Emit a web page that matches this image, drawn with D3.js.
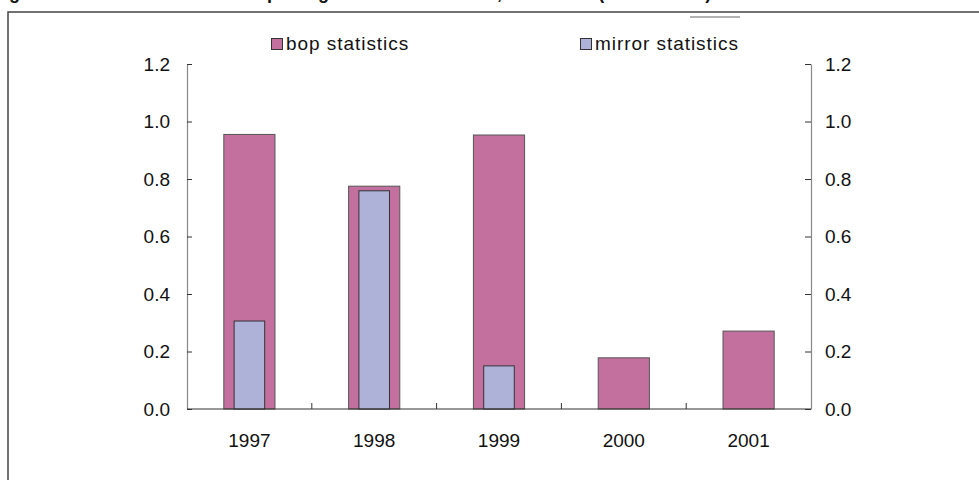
<!DOCTYPE html>
<html>
<head>
<meta charset="utf-8">
<script src="https://cdn.jsdelivr.net/npm/d3@7"></script>
<style>
  html, body { margin: 0; padding: 0; background: #fff; }
  svg { display: block; font-family: "Liberation Sans", Arial, sans-serif; }
</style>
</head>
<body>
<svg id="chart" width="979" height="480"></svg>
<script>
const categories = ["1997", "1998", "1999", "2000", "2001"];
const bopValues = [0.955, 0.775, 0.953, 0.178, 0.271];
const mirrorValues = [0.306, 0.759, 0.150, null, null];
const yTicks = [0.0, 0.2, 0.4, 0.6, 0.8, 1.0, 1.2];
const seriesNames = ["bop statistics", "mirror statistics"];
const seriesColors = ["#C4709E", "#AEB2D9"];
const titleText = "Figure 3. Direct investment in reporting countries to others, 1997-2001 (USD million)";

(function () {
const svg = d3.select("#chart");

// clipped title (only descenders visible at the top edge)
svg.append("text")
  .attr("x", -7)
  .attr("y", -0.8)
  .attr("font-weight", "bold")
  .attr("font-size", 18)
  .attr("fill", "#111")
  .text(titleText);

// outer frame (extends beyond viewport on right/bottom)
svg.append("rect")
  .attr("x", 8).attr("y", 12)
  .attr("width", 1000).attr("height", 500)
  .attr("fill", "none")
  .attr("stroke", "#444")
  .attr("stroke-width", 1.5);

// small artifact line near top
svg.append("line")
  .attr("x1", 690).attr("x2", 740)
  .attr("y1", 17).attr("y2", 17)
  .attr("stroke", "#666").attr("stroke-width", 1.2);

const pLeft = 187, pRight = 811, pTop = 64, pBottom = 409;

const x = d3.scaleBand().domain(categories).range([pLeft, pRight]).paddingInner(0).paddingOuter(0);
const y = d3.scaleLinear().domain([0, 1.2]).range([pBottom, pTop]);

const bw = x.bandwidth();
const pinkW = bw * 0.41;
const blueW = bw * 0.245;

// bop bars
svg.append("g").selectAll("rect")
  .data(categories.map((c, i) => ({c, v: bopValues[i]})).filter(d => d.v != null))
  .join("rect")
  .attr("x", d => x(d.c) + bw / 2 - pinkW / 2)
  .attr("y", d => y(d.v))
  .attr("width", pinkW)
  .attr("height", d => y(0) - y(d.v))
  .attr("fill", seriesColors[0])
  .attr("stroke", "#555")
  .attr("stroke-width", 1);

// mirror bars
svg.append("g").selectAll("rect")
  .data(categories.map((c, i) => ({c, v: mirrorValues[i]})).filter(d => d.v != null))
  .join("rect")
  .attr("x", d => x(d.c) + bw / 2 - blueW / 2)
  .attr("y", d => y(d.v))
  .attr("width", blueW)
  .attr("height", d => y(0) - y(d.v))
  .attr("fill", seriesColors[1])
  .attr("stroke", "#333")
  .attr("stroke-width", 1);

// left axis
const fmt = d3.format(".1f");
const gl = svg.append("g").attr("transform", `translate(${pLeft},0)`)
  .call(d3.axisRight(y).tickValues(yTicks).tickFormat("").tickSize(5).tickSizeOuter(0));
gl.select(".domain").attr("stroke", "#888").attr("stroke-width", 1.2);
gl.selectAll(".tick line").attr("stroke", "#333");
svg.append("g").selectAll("text")
  .data(yTicks).join("text")
  .attr("x", pLeft - 17)
  .attr("y", d => y(d))
  .attr("dy", "0.36em")
  .attr("text-anchor", "end")
  .attr("font-size", 19)
  .attr("fill", "#111")
  .text(fmt);

// right axis
const gr = svg.append("g").attr("transform", `translate(${pRight},0)`)
  .call(d3.axisLeft(y).tickValues(yTicks).tickFormat("").tickSize(6).tickSizeOuter(0));
gr.select(".domain").attr("stroke", "#888").attr("stroke-width", 1.2);
gr.selectAll(".tick line").attr("stroke", "#333");
svg.append("g").selectAll("text")
  .data(yTicks).join("text")
  .attr("x", pRight + 14)
  .attr("y", d => y(d))
  .attr("dy", "0.36em")
  .attr("text-anchor", "start")
  .attr("font-size", 19)
  .attr("fill", "#111")
  .text(fmt);

// x axis
const bounds = categories.slice(1).map(c => x(c));
svg.append("line")
  .attr("x1", pLeft).attr("x2", pRight)
  .attr("y1", pBottom).attr("y2", pBottom)
  .attr("stroke", "#333").attr("stroke-width", 1.2);
svg.append("g").selectAll("line")
  .data(bounds).join("line")
  .attr("x1", d => d).attr("x2", d => d)
  .attr("y1", pBottom).attr("y2", pBottom - 6)
  .attr("stroke", "#333");
svg.append("g").selectAll("text")
  .data(categories).join("text")
  .attr("x", d => x(d) + bw / 2)
  .attr("y", 447)
  .attr("text-anchor", "middle")
  .attr("font-size", 19)
  .attr("fill", "#111")
  .text(d => d);

// legend
const legendX = [271, 580];
const lg = svg.append("g").selectAll("g")
  .data(seriesNames).join("g")
  .attr("transform", (d, i) => `translate(${legendX[i]},38)`);
lg.append("rect")
  .attr("x", 0.5).attr("y", 0.5)
  .attr("width", 11).attr("height", 11)
  .attr("fill", (d, i) => seriesColors[i])
  .attr("stroke", "#333");
lg.append("text")
  .attr("x", 15)
  .attr("y", 12)
  .attr("font-size", 19)
  .attr("letter-spacing", 0.95)
  .attr("fill", "#111")
  .text(d => d);
})();
</script>
</body>
</html>
